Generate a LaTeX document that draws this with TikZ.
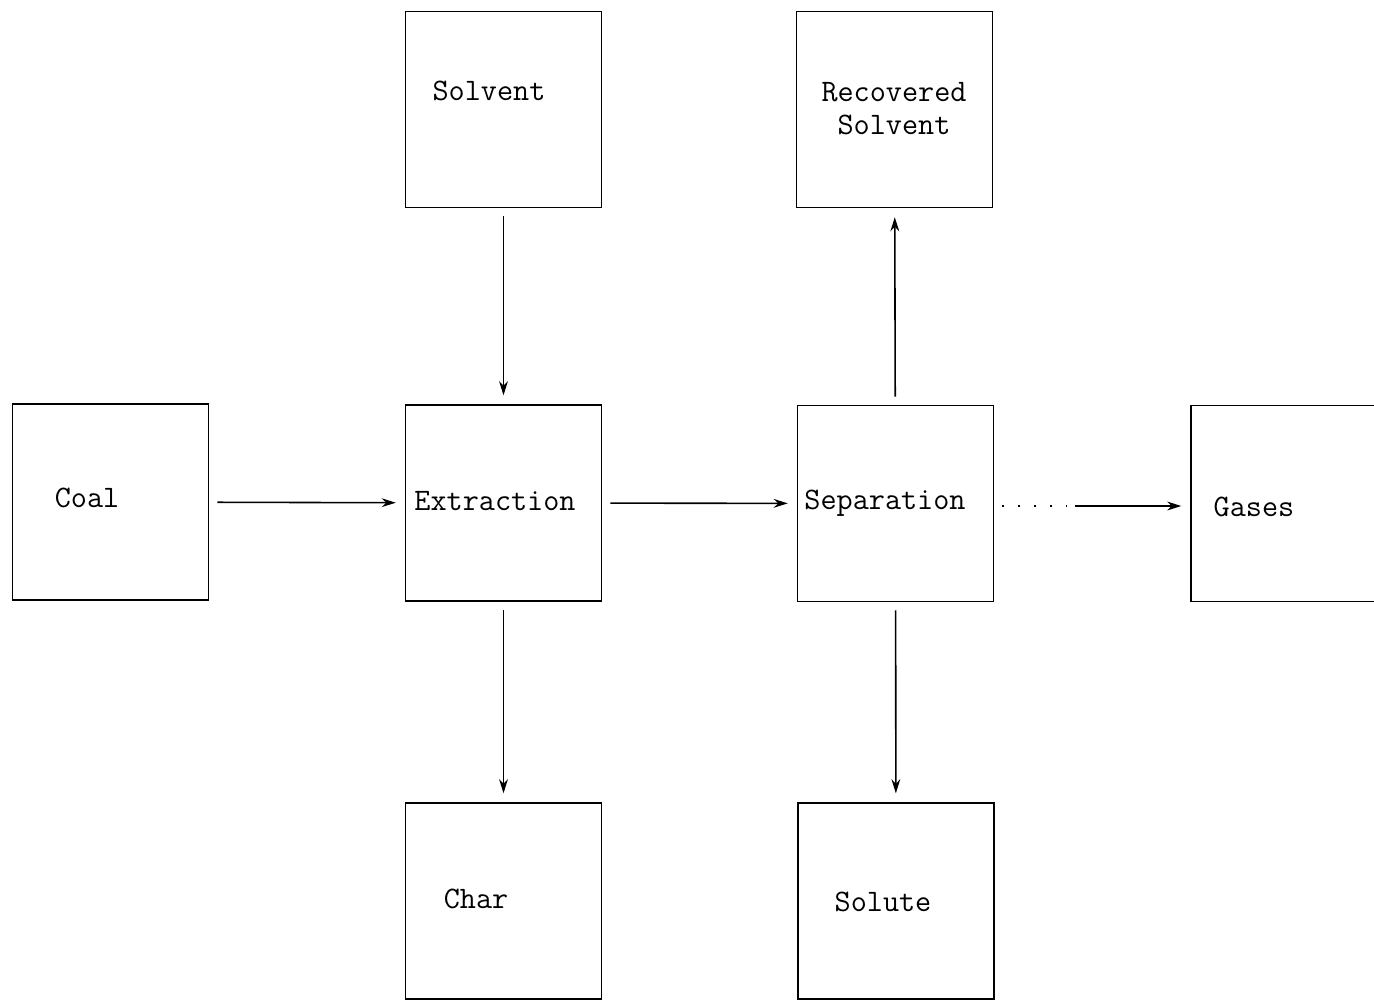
\documentclass[tikz,border=0pt]{standalone}
\usetikzlibrary{arrows.meta}
\begin{document}
\begin{tikzpicture}[x=0.02cm, y=-0.02cm,
       block/.style={rectangle,draw,line width=1.1pt,black,fill=white,
      minimum width=3.92cm,minimum height=3.92cm,inner sep=0pt},
        word/.style={inner sep=0pt,font=\fontsize{17.8}{18.8}\selectfont\ttfamily,align=center},
        nondirectional/.style={line width=0.9pt,black},
        unidirectional/.style={nondirectional,shorten <=4.5pt,shorten >=5pt,
      -{Stealth[length=8pt,width=5pt]}},
        faint/.style={nondirectional,dash pattern=on 1pt off 8pt,shorten <=4.5pt}]

	\useasboundingbox (0,0) rectangle (1374,1001);

	\node [block] (solvent) at (503.5, 109.5)       {};
        \node [block] (recovered) at (894.5, 109.5)    {};
        \node [block] (coal) at (110.5, 502)           {};
        \node [block] (extraction) at (503.5, 503)     {};
        \node [block] (separation) at (895.5, 503.5)   {};
        \node [block, minimum width=6cm] (gases) at (1341, 503.5) {};
        \node [block] (char) at (503.5, 901)           {};
        \node [block] (solute) at (896, 901)           {};

        \node [word] (solvent-t) at (489, 91)         {Solvent};
        \node [word] (recovered-t) at (894, 109)      {Recovered\\Solvent};
        \node [word] (coal-t) at (87, 498)            {Coal};
        \node [word] (extraction-t) at (495, 501)     {Extraction};
        \node [word] (separation-t) at (885, 503)     {Separation};
        \node [word] (gases-t) at (1254, 507)         {Gases};
        \node [word] (char-t) at (476, 899)           {Char};
        \node [word] (solute-t) at (883, 902)         {Solute};

        \coordinate (gmid) at (1075, 506);

        \path [unidirectional] (solvent) edge (extraction);
        \path [unidirectional] (coal) edge (extraction);
        \path [unidirectional] (extraction) edge (separation);
        \path [unidirectional] (extraction) edge (char);
        \path [unidirectional] (separation) edge (recovered);
        \path [unidirectional] (separation) edge (solute);
        \path [faint] (separation.east |- gmid) edge (gmid);
        \path [unidirectional,shorten <=0pt] (gmid) edge (gases.west |- gmid);
\end{tikzpicture}
\end{document}
